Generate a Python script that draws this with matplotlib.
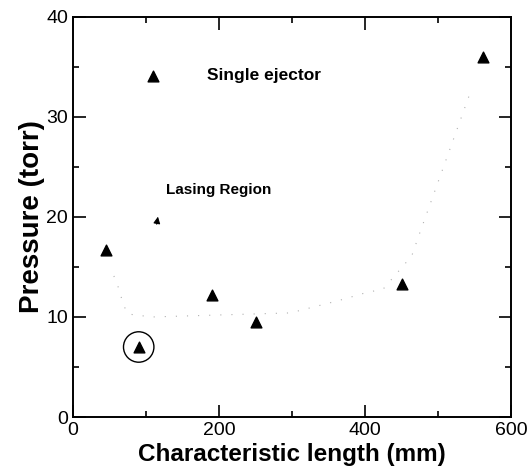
import matplotlib
matplotlib.use('Agg')
import matplotlib.pyplot as plt

plt.rcParams['font.family'] = ['Liberation Sans', 'DejaVu Sans']

# dati misurati (single ejector)
length_mm = [45, 90, 190, 250, 450, 562]
pressure_torr = [16.7, 7.0, 12.2, 9.5, 13.3, 36.0]

# confine tratteggiato della regione di lasing
boundary_x = [56, 64, 68, 75, 108, 200, 295, 308, 362, 400, 425, 464, 475, 545]
boundary_y = [14.1, 12.6, 11.4, 10.3, 10.0, 10.2, 10.4, 10.6, 11.6, 12.4, 12.8, 16.1, 18.4, 32.6]

circled_x = [90]
circled_y = [7.0]

fig = plt.figure(figsize=(5.29, 4.67), dpi=100)
ax = fig.add_axes([0.138, 0.107, 0.828, 0.857])

ax.plot(boundary_x, boundary_y, linestyle=(0, (1, 9)), color='#b0b0b0', linewidth=0.8)
ax.scatter(length_mm, pressure_torr, marker='^', s=60, color='black', zorder=3)
ax.scatter(circled_x, circled_y, marker='o', s=480, facecolors='none', edgecolors='black',
           linewidths=1.0, zorder=3)

# legenda manuale
ax.scatter([110], [34.1], marker='^', s=60, color='black')
ax.text(183, 34.1, 'Single ejector', fontsize=12.5, fontweight='bold', va='center')
ax.text(127, 22.7, 'Lasing Region', fontsize=11, fontweight='bold', va='center')
ax.annotate('', xy=(117, 20.3), xytext=(114, 19.0),
            arrowprops=dict(arrowstyle='-|>', color='black', lw=0.8, mutation_scale=10))

ax.set_xlim(0, 600)
ax.set_ylim(0, 40)
ax.set_xticks([0, 200, 400, 600])
ax.set_yticks([0, 10, 20, 30, 40])
ax.set_xticks([100, 300, 500], minor=True)
ax.set_yticks([5, 15, 25, 35], minor=True)
ax.tick_params(which='both', direction='in', top=True, right=True, labelsize=14, width=1.2)
ax.tick_params(which='major', length=9)
ax.tick_params(which='minor', length=4)
for s in ax.spines.values():
    s.set_linewidth(1.4)

ax.set_xlabel('Characteristic length (mm)', fontsize=17.5, fontweight='bold', labelpad=3)
ax.set_ylabel('Pressure (torr)', fontsize=20, fontweight='bold', labelpad=1)

fig.savefig('out.png', dpi=100)
